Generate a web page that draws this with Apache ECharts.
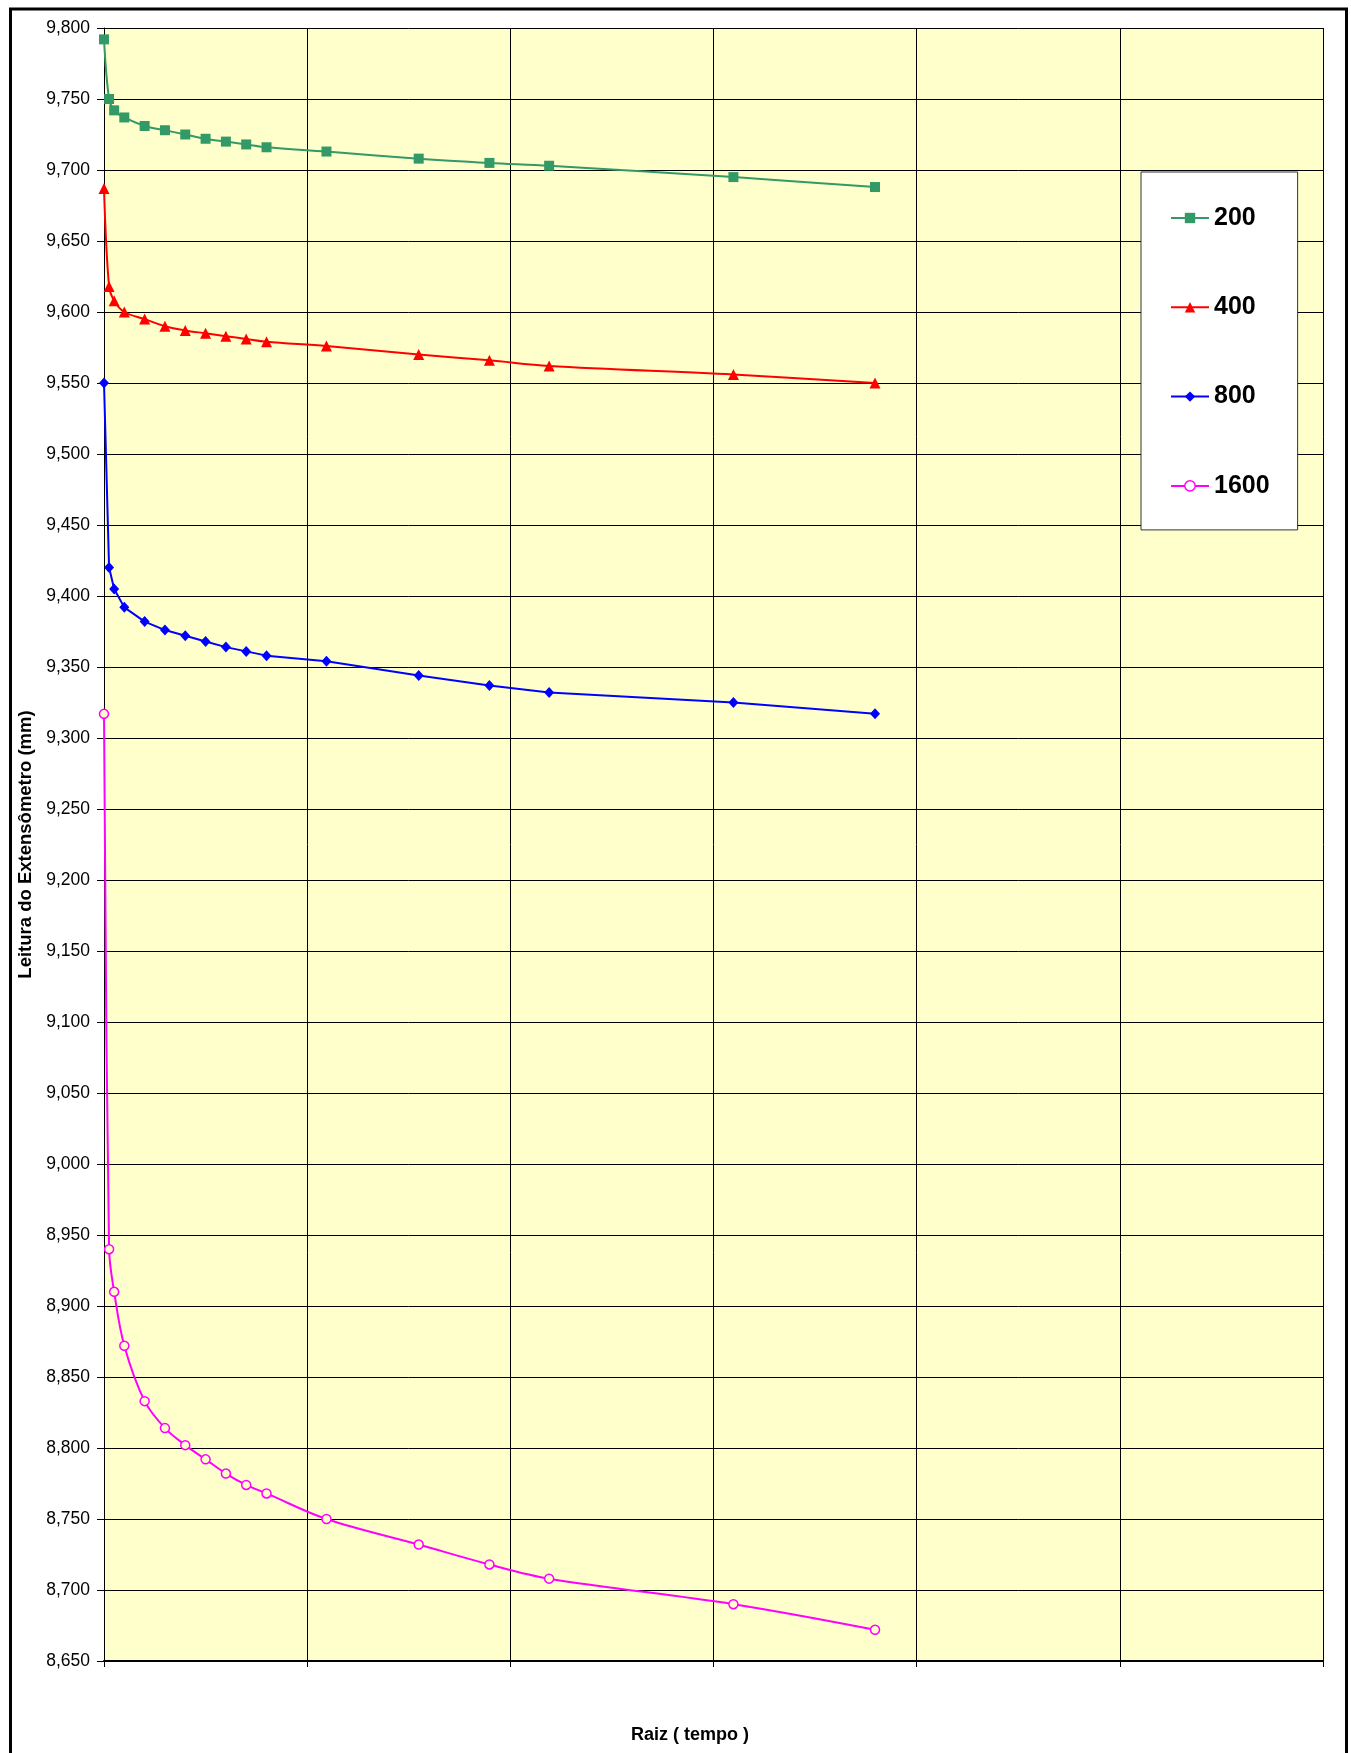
<!DOCTYPE html>
<html>
<head>
<meta charset="utf-8">
<title>Leitura do Extensômetro</title>
<script src="https://cdn.jsdelivr.net/npm/echarts@6/dist/echarts.min.js"></script>
<style>
  html, body { margin: 0; padding: 0; background: #ffffff; }
  #chart { width: 1351px; height: 1753px; }
</style>
</head>
<body>
<div id="chart"></div>
<script>
// Raiz (tempo): square root of elapsed time for each reading
const raizTempo = [0, 0.25, 0.5, 1, 2, 3, 4, 5, 6, 7, 8, 10.95, 15.49, 18.97, 21.91, 30.98, 37.95];

// Extensometer readings (mm) for each load stage
const leitura200 = [9.792, 9.750, 9.742, 9.737, 9.731, 9.728, 9.725, 9.722, 9.720, 9.718, 9.716, 9.713, 9.708, 9.705, 9.703, 9.695, 9.688];
const leitura400 = [9.687, 9.618, 9.608, 9.600, 9.595, 9.590, 9.587, 9.585, 9.583, 9.581, 9.579, 9.576, 9.570, 9.566, 9.562, 9.556, 9.550];
const leitura800 = [9.550, 9.420, 9.405, 9.392, 9.382, 9.376, 9.372, 9.368, 9.364, 9.361, 9.358, 9.354, 9.344, 9.337, 9.332, 9.325, 9.317];
const leitura1600 = [9.317, 8.940, 8.910, 8.872, 8.833, 8.814, 8.802, 8.792, 8.782, 8.774, 8.768, 8.750, 8.732, 8.718, 8.708, 8.690, 8.672];

const serieNames = ['200', '400', '800', '1600'];

// Axis range and steps
const yMin = 8.65, yMax = 9.80, yStep = 0.05;
const xMin = 0, xMax = 60, xStep = 10;

function pairs(values) {
  return raizTempo.map((x, i) => [x, values[i]]);
}

const FONT = '"Liberation Sans", Arial, Helvetica, sans-serif';

const chart = echarts.init(document.getElementById('chart'), null, { renderer: 'canvas' });

chart.setOption({
  backgroundColor: '#ffffff',
  animation: false,
  graphic: [{
    type: 'rect',
    left: 8, top: 6.5,
    shape: { x: 8, y: 6.5, width: 1336, height: 1800 },
    style: { fill: 'none', stroke: '#000000', lineWidth: 3 },
    silent: true,
    z: 100
  }],
  grid: {
    left: 104, right: 28, top: 28, bottom: 92,
    show: true,
    backgroundColor: '#FFFFCC',
    borderWidth: 0
  },
  legend: {
    orient: 'vertical',
    left: 1141, top: 172,
    backgroundColor: '#ffffff',
    borderColor: '#333333',
    borderWidth: 1,
    padding: [31, 28, 29, 29],
    itemGap: 59.3,
    itemWidth: 38,
    itemHeight: 13,
    textStyle: { fontFamily: FONT, fontSize: 25, fontWeight: 'bold', color: '#000000', lineHeight: 30 },
    data: [
      { name: '200' },
      { name: '400' },
      { name: '800' },
      { name: '1600', itemStyle: { color: '#ffffff', borderColor: '#FF00FF', borderWidth: 1.5 } }
    ]
  },
  xAxis: {
    type: 'value',
    min: xMin, max: xMax, interval: xStep,
    name: 'Raiz ( tempo )',
    nameLocation: 'middle',
    nameGap: 65,
    nameTextStyle: { fontFamily: FONT, fontSize: 18, fontWeight: 'bold', color: '#000000', padding: [0, 47, 0, 0] },
    axisLine: { show: true, onZero: false, lineStyle: { color: '#000000', width: 2 } },
    axisTick: { show: true, inside: false, length: 6, lineStyle: { color: '#000000', width: 1 } },
    axisLabel: { show: false },
    splitLine: { show: true, lineStyle: { color: '#000000', width: 1 } }
  },
  yAxis: {
    type: 'value',
    min: yMin, max: yMax, interval: yStep,
    name: 'Leitura do Extensômetro (mm)',
    nameLocation: 'middle',
    nameGap: 63,
    nameTextStyle: { fontFamily: FONT, fontSize: 18.5, fontWeight: 'bold', color: '#000000' },
    axisLine: { show: true, onZero: false, lineStyle: { color: '#000000', width: 1 } },
    axisTick: { show: true, inside: false, length: 7, lineStyle: { color: '#000000', width: 1 } },
    axisLabel: {
      show: true,
      margin: 14,
      fontFamily: FONT, fontSize: 17.5, color: '#000000',
      formatter: v => v.toFixed(3).replace('.', ',')
    },
    splitLine: { show: true, lineStyle: { color: '#000000', width: 1 } }
  },
  series: [
    {
      name: serieNames[0], type: 'line', data: pairs(leitura200),
      smooth: 0.35,
      symbol: 'rect', symbolSize: 10,
      lineStyle: { color: '#339966', width: 2 },
      itemStyle: { color: '#339966' },
      z: 4
    },
    {
      name: serieNames[1], type: 'line', data: pairs(leitura400),
      smooth: 0.35,
      symbol: 'triangle', symbolSize: 11,
      lineStyle: { color: '#FF0000', width: 2 },
      itemStyle: { color: '#FF0000' },
      z: 3
    },
    {
      name: serieNames[2], type: 'line', data: pairs(leitura800),
      smooth: false,
      symbol: 'diamond', symbolSize: [10, 11],
      lineStyle: { color: '#0000FF', width: 2 },
      itemStyle: { color: '#0000FF' },
      z: 2
    },
    {
      name: serieNames[3], type: 'line', data: pairs(leitura1600),
      smooth: 0.35,
      symbol: 'circle', symbolSize: 9,
      lineStyle: { color: '#FF00FF', width: 2 },
      itemStyle: { color: '#FFFFCC', borderColor: '#FF00FF', borderWidth: 1.5 },
      z: 1
    }
  ]
});
</script>
</body>
</html>
